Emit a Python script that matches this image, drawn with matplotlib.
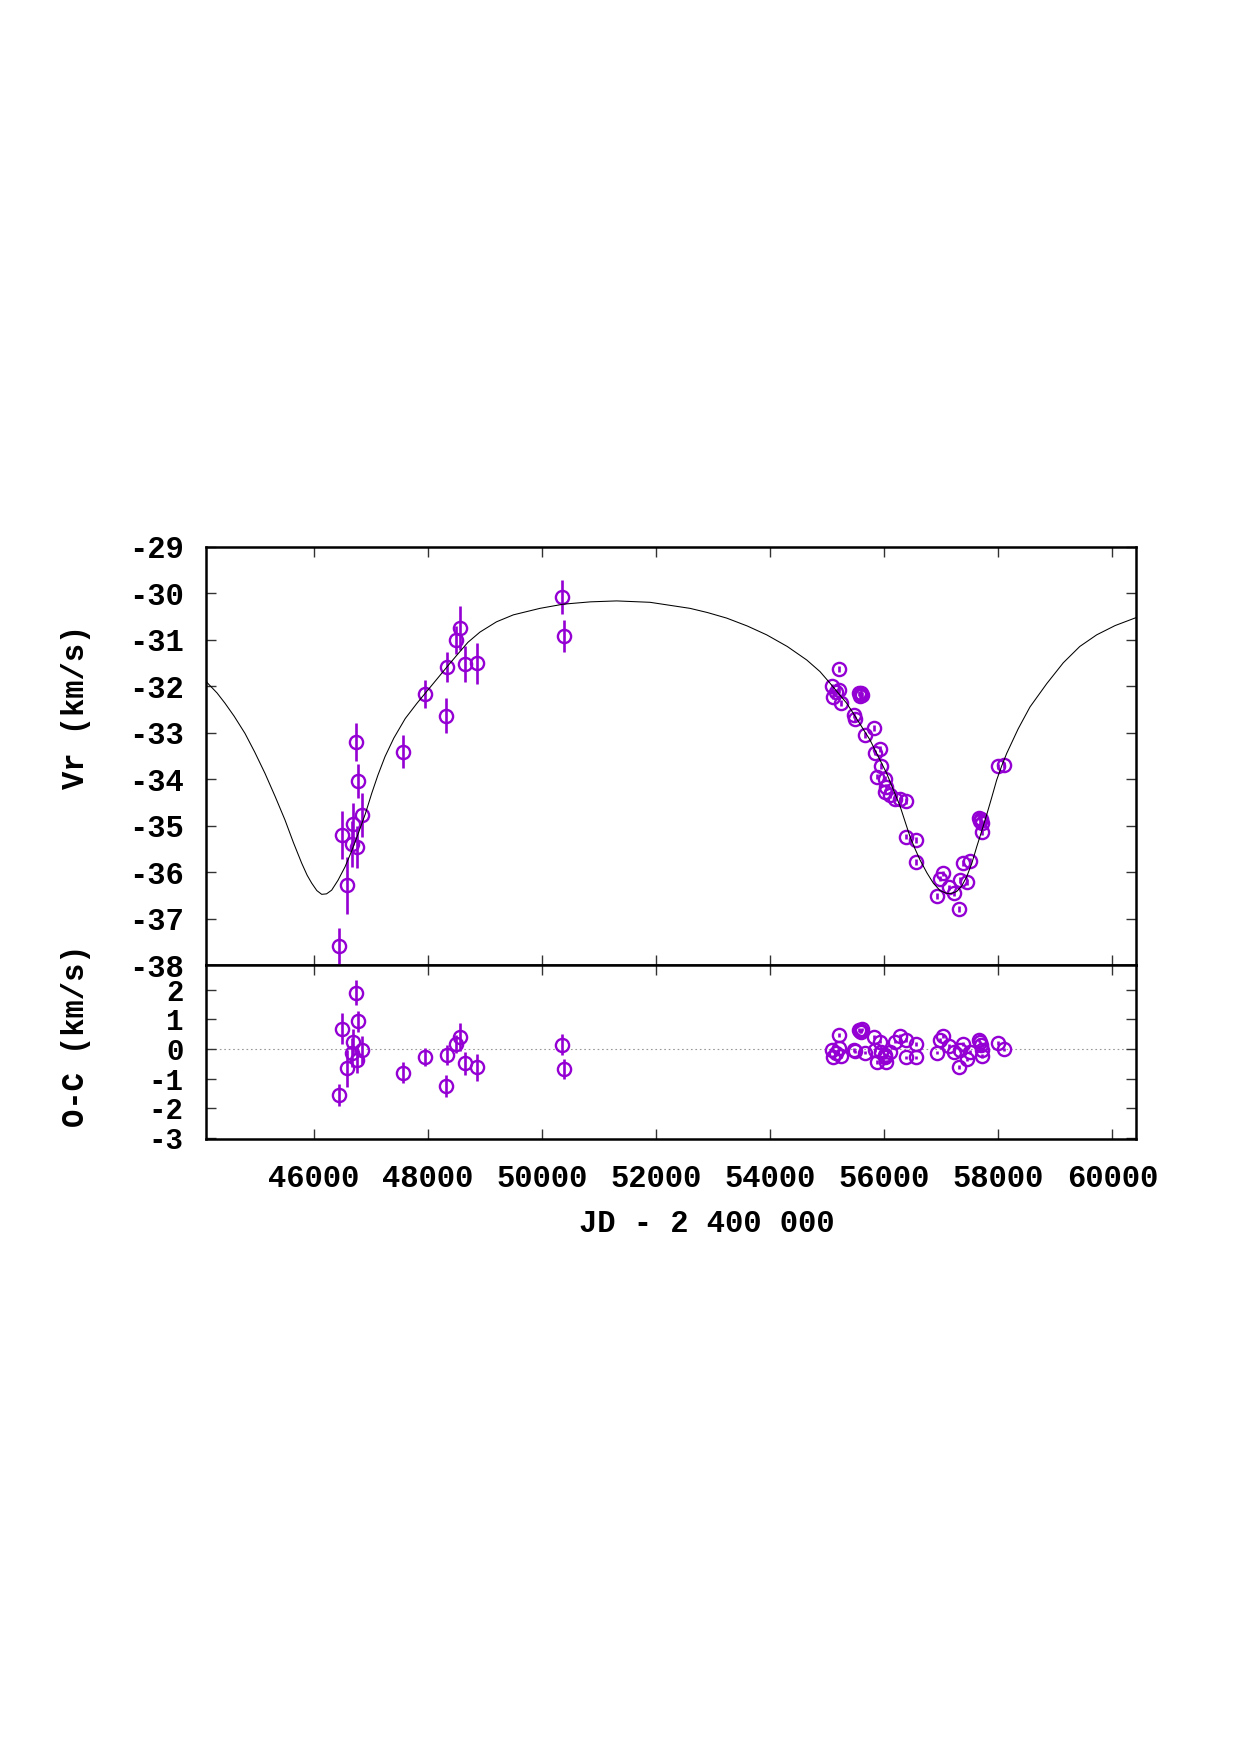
import matplotlib
matplotlib.use("Agg")
import matplotlib.pyplot as plt

plt.rcParams['font.family'] = ['Liberation Mono', 'DejaVu Sans Mono']
plt.rcParams['font.weight'] = 'bold'
plt.rcParams['axes.unicode_minus'] = False

# ---------------- data ----------------
# older measurements (large errors)
jd_old = [46444, 46491, 46579, 46666, 46680, 46731, 46754, 46772, 46848,
          47566, 47941, 48315, 48338, 48496, 48566, 48643, 48859, 50355, 50385]
vr_old = [-37.59, -35.20, -36.29, -35.40, -34.97, -33.20, -35.47, -34.04, -34.78,
          -33.41, -32.17, -32.64, -31.59, -31.02, -30.76, -31.53, -31.51, -30.09, -30.92]
err_old = [0.38, 0.52, 0.62, 0.50, 0.45, 0.41, 0.45, 0.36, 0.47,
           0.36, 0.30, 0.38, 0.33, 0.30, 0.47, 0.38, 0.44, 0.36, 0.34]
oc_old = [-1.55, 0.68, -0.65, -0.12, 0.22, 1.90, -0.37, 0.93, -0.04,
          -0.80, -0.26, -1.25, -0.21, 0.18, 0.39, -0.48, -0.62, 0.15, -0.66]

# recent measurements (small errors)
jd_new = [55079, 55108, 55150, 55213, 55213, 55237,
          55560, 55585, 55600, 55575, 55610,
          55471, 55494, 55658, 55827, 55839, 55880, 55927, 55944, 56015, 56020,
          56032, 56102, 56190, 56277, 56377, 56382, 56552, 56558, 56926, 56979,
          57026, 57137, 57219, 57312, 57330, 57389, 57447, 57505, 57670, 57680,
          57690, 57709, 57709, 58001, 58101]
vr_new = [-32.01, -32.23, -32.13, -31.64, -32.09, -32.36,
          -32.16, -32.20, -32.15, -32.22, -32.19,
          -32.62, -32.70, -33.05, -32.90, -33.43, -33.95, -33.36, -33.72, -33.99, -34.27,
          -34.17, -34.34, -34.42, -34.44, -34.47, -35.24, -35.31, -35.79, -36.52, -36.14,
          -36.03, -36.33, -36.46, -36.80, -36.17, -35.81, -36.22, -35.76, -34.83, -34.90,
          -34.87, -34.95, -35.15, -33.73, -33.70]
err_new = [0.06] * len(jd_new)
oc_new = [-0.03, -0.26, -0.12, 0.47, 0.02, -0.24,
          0.64, 0.59, 0.62, 0.60, 0.66,
          -0.03, -0.08, -0.12, 0.41, -0.03, -0.43, 0.25, -0.09, -0.26, -0.20,
          -0.43, -0.09, 0.25, 0.44, 0.30, -0.28, 0.16, -0.28, -0.12, 0.30,
          0.44, 0.10, -0.09, -0.60, -0.03, 0.17, -0.35, -0.09, 0.30, 0.22,
          0.13, -0.03, -0.24, 0.21, -0.01]

# orbital model curve
jd_model = [44106, 44136, 44300, 44439, 44600, 44790, 44960, 45141, 45320, 45491,
            45640, 45784, 45880, 45960, 46050, 46135, 46220, 46310, 46420, 46544,
            46660, 46777, 46900, 47012, 47120, 47245, 47400, 47600, 47800, 47941,
            48150, 48338, 48496, 48700, 48911, 49200, 49496, 49963, 50372, 50850,
            51308, 51893, 52594, 52900, 53238, 53600, 53939, 54300, 54641, 54874,
            55050, 55342, 55459, 55751, 56044, 56160, 56277, 56370, 56453, 56540,
            56628, 56750, 56862, 56980, 57096, 57180, 57271, 57360, 57447, 57535,
            57622, 57710, 57797, 57885, 57973, 58060, 58148, 58350, 58557, 58850,
            59141, 59430, 59726, 60050, 60416]
vr_model = [-31.90, -31.94, -32.15, -32.37, -32.65, -33.02, -33.42, -33.88, -34.38, -34.88,
            -35.37, -35.81, -36.07, -36.24, -36.40, -36.48, -36.47, -36.39, -36.18, -35.89,
            -35.55, -35.17, -34.75, -34.31, -33.92, -33.52, -33.12, -32.70, -32.38, -32.17,
            -31.86, -31.58, -31.35, -31.06, -30.84, -30.62, -30.47, -30.33, -30.24, -30.19,
            -30.17, -30.20, -30.33, -30.42, -30.54, -30.71, -30.90, -31.15, -31.44, -31.69,
            -31.94, -32.37, -32.59, -33.16, -33.88, -34.23, -34.58, -34.93, -35.24, -35.50,
            -35.74, -36.02, -36.24, -36.40, -36.46, -36.46, -36.42, -36.30, -36.10, -35.82,
            -35.46, -35.12, -34.77, -34.40, -34.02, -33.72, -33.45, -32.92, -32.45, -31.95,
            -31.50, -31.15, -30.90, -30.70, -30.53]

xticks = [46000, 48000, 50000, 52000, 54000, 56000, 58000, 60000]
xticklabels = ['46000', '48000', '50000', '52000', '54000', '56000', '58000', '60000']
yticks_top = [-38, -37, -36, -35, -34, -33, -32, -31, -30, -29]
yticklabels_top = ['-38', '-37', '-36', '-35', '-34', '-33', '-32', '-31', '-30', '-29']
yticks_bot = [-3, -2, -1, 0, 1, 2]
yticklabels_bot = ['-3', '-2', '-1', '0', '1', '2']

# ---------------- plot ----------------
color = '#9400D3'
fig = plt.figure(figsize=(12.4, 17.55), dpi=100)
ax1 = fig.add_axes([0.16613, 0.45014, 0.75, 0.23846])
ax2 = fig.add_axes([0.16613, 0.35100, 0.75, 0.09914])

ekw = dict(fmt='o', mfc='none', mec=color, ms=9.5, mew=1.7, ecolor=color,
           elinewidth=1.9, capsize=0, zorder=3)

ax1.errorbar(jd_old, vr_old, yerr=err_old, **ekw)
ax1.errorbar(jd_new, vr_new, yerr=err_new, **ekw)
ax1.plot(jd_model, vr_model, color='black', lw=0.75, zorder=4)

ax2.axhline(0, color='#999999', lw=0.8, ls=(0, (1.5, 2.5)), zorder=1)
ax2.errorbar(jd_old, oc_old, yerr=err_old, **ekw)
ax2.errorbar(jd_new, oc_new, yerr=err_new, **ekw)

xmin, xmax = 44106, 60416
for ax in (ax1, ax2):
    ax.set_xlim(xmin, xmax)
    ax.set_xticks(xticks)
    for s in ax.spines.values():
        s.set_linewidth(1.8)
        s.set_color('black')
    ax.tick_params(direction='in', length=7, width=1.0, color='#333333',
                   top=True, right=True, labelsize=22)
    ax.tick_params(axis='y', pad=16)

ax1.set_ylim(-38, -29)
ax1.set_yticks(yticks_top)
ax1.set_yticklabels(yticklabels_top)
ax1.set_xticklabels([])

ax2.set_ylim(-3.03, 2.83)
ax2.set_yticks(yticks_bot)
ax2.set_yticklabels(yticklabels_bot, fontsize=21)
ax2.set_xticklabels(xticklabels, fontsize=22, fontweight='bold')
ax2.tick_params(axis='x', pad=18)

fig.text(0.061, 0.597, 'Vr (km/s)', rotation=90, ha='center', va='center',
         fontsize=22, fontweight='bold')
fig.text(0.061, 0.410, 'O-C (km/s)', rotation=90, ha='center', va='center',
         fontsize=22, fontweight='bold')
fig.text(0.570, 0.3026, 'JD - 2 400 000', ha='center', va='center',
         fontsize=22, fontweight='bold')

fig.savefig('out.png', dpi=100)
